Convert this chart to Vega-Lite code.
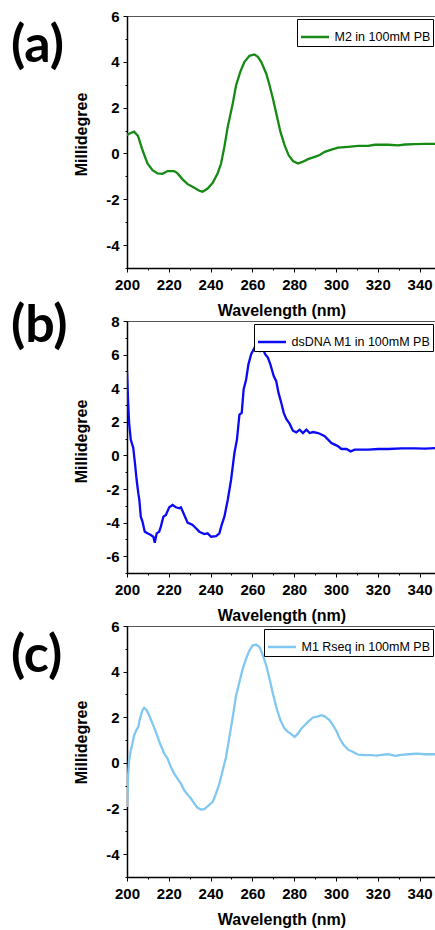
{
  "$schema": "https://vega.github.io/schema/vega-lite/v6.json",
  "padding": {"left": 10, "top": 8, "right": 0, "bottom": 0},
  "background": "white",
  "spacing": 53,
  "bounds": "flush",
  "resolve": {"scale": {"color": "independent"}, "legend": {"color": "independent"}},
  "config": {
    "view": {"stroke": "#555", "strokeWidth": 1},
    "axis": {
      "domainColor": "black", "domainWidth": 1.5, "tickColor": "black", "tickWidth": 1,
      "labelFont": "Liberation Sans", "labelFontWeight": "bold", "labelFontSize": 15, "labelColor": "black",
      "titleFont": "Liberation Sans", "titleFontWeight": "bold", "titleFontSize": 16, "titleColor": "black",
      "grid": false, "labelFlush": false, "labelOverlap": false
    },
    "legend": {
      "orient": "top-right", "offset": 3, "strokeColor": "black", "strokeWidth": 1, "fillColor": "white",
      "padding": 2.5, "labelFont": "Liberation Sans", "labelFontSize": 12.5, "labelColor": "black",
      "symbolType": "stroke", "symbolSize": 784, "symbolStrokeWidth": 2.5, "labelOffset": 4, "cornerRadius": 0
    },
    "title": {"font": "Lato", "fontSize": 52, "fontWeight": "bold", "color": "black", "anchor": "start", "frame": "group", "orient": "top", "offset": 0}
  },
  "datasets": {
    "a": [
      {"x":200,"y":0.8},{"x":201.5,"y":0.88},{"x":203.4,"y":0.95},{"x":205.3,"y":0.76},{"x":207.4,"y":0.15},{"x":209.8,"y":-0.44},{"x":212.2,"y":-0.73},{"x":214.6,"y":-0.87},{"x":217,"y":-0.89},{"x":219.4,"y":-0.77},{"x":222.6,"y":-0.77},{"x":224.2,"y":-0.87},{"x":226.6,"y":-1.13},{"x":229,"y":-1.34},{"x":232.2,"y":-1.5},{"x":234.6,"y":-1.63},{"x":236.2,"y":-1.67},{"x":238.6,"y":-1.53},{"x":241,"y":-1.28},{"x":243.4,"y":-0.87},{"x":245,"y":-0.44},{"x":246.6,"y":0.29},{"x":248.2,"y":1.16},{"x":250.6,"y":2.18},{"x":252.2,"y":2.98},{"x":254.2,"y":3.56},{"x":256.2,"y":4.0},{"x":258.6,"y":4.26},{"x":261,"y":4.32},{"x":262.6,"y":4.22},{"x":264.2,"y":4.0},{"x":266.6,"y":3.49},{"x":268.2,"y":2.98},{"x":269.8,"y":2.4},{"x":271.4,"y":1.75},{"x":273.4,"y":0.95},{"x":275.4,"y":0.36},{"x":277.3,"y":-0.07},{"x":279.4,"y":-0.33},{"x":281.8,"y":-0.44},{"x":284.2,"y":-0.36},{"x":286.6,"y":-0.25},{"x":289.8,"y":-0.15},{"x":292.2,"y":-0.07},{"x":294.6,"y":0.07},{"x":297.8,"y":0.17},{"x":301,"y":0.25},{"x":305.8,"y":0.29},{"x":310.6,"y":0.33},{"x":315.4,"y":0.33},{"x":318.6,"y":0.38},{"x":325,"y":0.38},{"x":329.8,"y":0.35},{"x":333,"y":0.39},{"x":337.8,"y":0.41},{"x":342.6,"y":0.42},{"x":348,"y":0.42}
    ],
    "b": [
      {"x":200,"y":5.0},{"x":200.5,"y":3.3},{"x":201,"y":1.93},{"x":201.8,"y":0.94},{"x":203,"y":0.44},{"x":203.8,"y":-0.46},{"x":204.6,"y":-1.45},{"x":205.4,"y":-2.25},{"x":205.9,"y":-2.65},{"x":206.6,"y":-3.65},{"x":207.4,"y":-3.94},{"x":208.5,"y":-4.54},{"x":209.8,"y":-4.64},{"x":211.4,"y":-4.74},{"x":212.6,"y":-4.84},{"x":213.3,"y":-5.2},{"x":214.2,"y":-4.64},{"x":215.4,"y":-4.54},{"x":216.2,"y":-4.24},{"x":217.4,"y":-3.65},{"x":218.6,"y":-3.55},{"x":220.2,"y":-3.09},{"x":221.8,"y":-2.95},{"x":223.4,"y":-3.09},{"x":225,"y":-3.15},{"x":225.8,"y":-3.09},{"x":227.4,"y":-3.55},{"x":229,"y":-4.0},{"x":231.4,"y":-4.14},{"x":233,"y":-4.34},{"x":234.6,"y":-4.54},{"x":237,"y":-4.68},{"x":238.6,"y":-4.64},{"x":240.2,"y":-4.84},{"x":242.6,"y":-4.8},{"x":244.2,"y":-4.64},{"x":245.3,"y":-4.14},{"x":246.6,"y":-3.65},{"x":248.2,"y":-2.65},{"x":249.8,"y":-1.45},{"x":251.4,"y":0.14},{"x":252.6,"y":0.94},{"x":253.8,"y":2.43},{"x":254.9,"y":2.53},{"x":255.8,"y":3.92},{"x":257,"y":4.52},{"x":258.1,"y":5.42},{"x":259.4,"y":6.02},{"x":261,"y":6.41},{"x":262.1,"y":6.75},{"x":262.9,"y":6.51},{"x":263.8,"y":6.22},{"x":265,"y":6.35},{"x":266.1,"y":6.02},{"x":267.4,"y":5.82},{"x":268.6,"y":5.42},{"x":270.2,"y":4.72},{"x":271.4,"y":4.42},{"x":272.5,"y":3.72},{"x":273.8,"y":3.13},{"x":275,"y":2.53},{"x":276.2,"y":2.17},{"x":277.8,"y":1.89},{"x":279.4,"y":1.47},{"x":281,"y":1.37},{"x":282.6,"y":1.53},{"x":284.2,"y":1.33},{"x":285.8,"y":1.53},{"x":287.4,"y":1.33},{"x":289,"y":1.39},{"x":291.4,"y":1.33},{"x":293,"y":1.24},{"x":294.6,"y":1.14},{"x":296.2,"y":0.94},{"x":297.8,"y":0.74},{"x":299.4,"y":0.64},{"x":301,"y":0.54},{"x":302.6,"y":0.38},{"x":305,"y":0.38},{"x":307,"y":0.24},{"x":309,"y":0.34},{"x":312.2,"y":0.34},{"x":315.4,"y":0.34},{"x":320.2,"y":0.38},{"x":325,"y":0.38},{"x":331.4,"y":0.42},{"x":337.8,"y":0.42},{"x":342.6,"y":0.4},{"x":348,"y":0.44}
    ],
    "c": [
      {"x":200,"y":-1.93},{"x":200.5,"y":-0.61},{"x":201,"y":0.12},{"x":201.8,"y":0.55},{"x":202.6,"y":0.85},{"x":203.4,"y":1.21},{"x":204.6,"y":1.46},{"x":205.4,"y":1.58},{"x":206.2,"y":1.94},{"x":207.4,"y":2.31},{"x":208.2,"y":2.42},{"x":209.4,"y":2.31},{"x":210.6,"y":2.09},{"x":212.2,"y":1.72},{"x":213.8,"y":1.36},{"x":215.8,"y":0.85},{"x":217.8,"y":0.41},{"x":219.4,"y":0.19},{"x":221,"y":-0.18},{"x":222.6,"y":-0.47},{"x":224.2,"y":-0.69},{"x":225.8,"y":-0.91},{"x":227.4,"y":-1.2},{"x":229,"y":-1.39},{"x":230.6,"y":-1.56},{"x":232.2,"y":-1.78},{"x":233.8,"y":-1.97},{"x":235.4,"y":-2.04},{"x":237,"y":-2.03},{"x":238.6,"y":-1.9},{"x":241,"y":-1.71},{"x":242.6,"y":-1.34},{"x":244.2,"y":-0.91},{"x":245.8,"y":-0.32},{"x":247.4,"y":0.26},{"x":249,"y":1.14},{"x":250.6,"y":2.01},{"x":252.2,"y":2.96},{"x":253.8,"y":3.55},{"x":255.4,"y":4.13},{"x":257,"y":4.57},{"x":258.6,"y":4.93},{"x":260.2,"y":5.15},{"x":261.8,"y":5.18},{"x":263.4,"y":5.08},{"x":265,"y":4.72},{"x":266.6,"y":4.28},{"x":268.2,"y":3.69},{"x":269.8,"y":3.04},{"x":271.4,"y":2.45},{"x":273.4,"y":1.87},{"x":275.4,"y":1.5},{"x":277,"y":1.36},{"x":278.6,"y":1.26},{"x":280.2,"y":1.14},{"x":281.8,"y":1.28},{"x":283.4,"y":1.5},{"x":285,"y":1.65},{"x":286.6,"y":1.8},{"x":289,"y":1.99},{"x":291.4,"y":2.04},{"x":293,"y":2.09},{"x":294.6,"y":2.04},{"x":297,"y":1.87},{"x":298.6,"y":1.65},{"x":300.2,"y":1.4},{"x":301.8,"y":1.07},{"x":303.4,"y":0.82},{"x":305.8,"y":0.58},{"x":308.2,"y":0.48},{"x":310.6,"y":0.36},{"x":313.8,"y":0.34},{"x":317,"y":0.34},{"x":319.4,"y":0.32},{"x":321.8,"y":0.35},{"x":325,"y":0.38},{"x":328.2,"y":0.31},{"x":331.4,"y":0.35},{"x":334.6,"y":0.38},{"x":338.6,"y":0.41},{"x":342.6,"y":0.38},{"x":348,"y":0.38}
    ]
  },
  "vconcat": [
    {
      "width": 309, "height": 252,
      "title": {"text": "(a)", "dx": -116, "dy": 68},
      "data": {"name": "a"},
      "transform": [{"calculate": "'M2 in 100mM PB'", "as": "s"}],
      "mark": {"type": "line", "clip": true, "strokeWidth": 2.3},
      "encoding": {
        "x": {"field": "x", "type": "quantitative", "scale": {"domain": [200, 347.85], "nice": false, "zero": false},
          "axis": {"title": "Wavelength (nm)", "values": [200,210,220,230,240,250,260,270,280,290,300,310,320,330,340], "labelExpr": "datum.value % 20 === 0 ? '' + datum.value : ''", "tickSize": {"condition": {"test": "datum.value % 20 === 0", "value": 4}, "value": 2}, "labelPadding": 5.5, "titleY": 34}},
        "y": {"field": "y", "type": "quantitative", "scale": {"domain": [-5, 6], "nice": false, "zero": false},
          "axis": {"title": "Millidegree", "values": [-5,-4,-3,-2,-1,0,1,2,3,4,5,6], "labelExpr": "datum.value % 2 === 0 ? '' + datum.value : ''", "tickSize": {"condition": {"test": "datum.value % 2 === 0", "value": 4}, "value": 2}, "labelPadding": 4, "titleX": -38, "titleY": 118}},
        "color": {"field": "s", "type": "nominal", "scale": {"range": ["#158a15"]}, "legend": {"title": null}}
      }
    },
    {
      "width": 309, "height": 252,
      "title": {"text": "(b)", "dx": -116, "dy": 43},
      "data": {"name": "b"},
      "transform": [{"calculate": "'dsDNA M1 in 100mM PB'", "as": "s"}],
      "mark": {"type": "line", "clip": true, "strokeWidth": 2.3},
      "encoding": {
        "x": {"field": "x", "type": "quantitative", "scale": {"domain": [200, 347.85], "nice": false, "zero": false},
          "axis": {"title": "Wavelength (nm)", "values": [200,210,220,230,240,250,260,270,280,290,300,310,320,330,340], "labelExpr": "datum.value % 20 === 0 ? '' + datum.value : ''", "tickSize": {"condition": {"test": "datum.value % 20 === 0", "value": 4}, "value": 2}, "labelPadding": 5.5, "titleY": 34}},
        "y": {"field": "y", "type": "quantitative", "scale": {"domain": [-7, 8], "nice": false, "zero": false},
          "axis": {"title": "Millidegree", "values": [-7,-6,-5,-4,-3,-2,-1,0,1,2,3,4,5,6,7,8], "labelExpr": "datum.value % 2 === 0 ? '' + datum.value : ''", "tickSize": {"condition": {"test": "datum.value % 2 === 0", "value": 4}, "value": 2}, "labelPadding": 4, "titleX": -38, "titleY": 120}},
        "color": {"field": "s", "type": "nominal", "scale": {"range": ["#0a0af5"]}, "legend": {"title": null}}
      }
    },
    {
      "width": 309, "height": 251,
      "title": {"text": "(c)", "dx": -116, "dy": 68},
      "data": {"name": "c"},
      "transform": [{"calculate": "'M1 Rseq in 100mM PB'", "as": "s"}],
      "mark": {"type": "line", "clip": true, "strokeWidth": 2.3},
      "encoding": {
        "x": {"field": "x", "type": "quantitative", "scale": {"domain": [200, 347.85], "nice": false, "zero": false},
          "axis": {"title": "Wavelength (nm)", "values": [200,210,220,230,240,250,260,270,280,290,300,310,320,330,340], "labelExpr": "datum.value % 20 === 0 ? '' + datum.value : ''", "tickSize": {"condition": {"test": "datum.value % 20 === 0", "value": 4}, "value": 2}, "labelPadding": 5.5, "titleY": 34}},
        "y": {"field": "y", "type": "quantitative", "scale": {"domain": [-5, 6], "nice": false, "zero": false},
          "axis": {"title": "Millidegree", "values": [-5,-4,-3,-2,-1,0,1,2,3,4,5,6], "labelExpr": "datum.value % 2 === 0 ? '' + datum.value : ''", "tickSize": {"condition": {"test": "datum.value % 2 === 0", "value": 4}, "value": 2}, "labelPadding": 4, "titleX": -38, "titleY": 116}},
        "color": {"field": "s", "type": "nominal", "scale": {"range": ["#80c8f2"]}, "legend": {"title": null}}
      }
    }
  ]
}
